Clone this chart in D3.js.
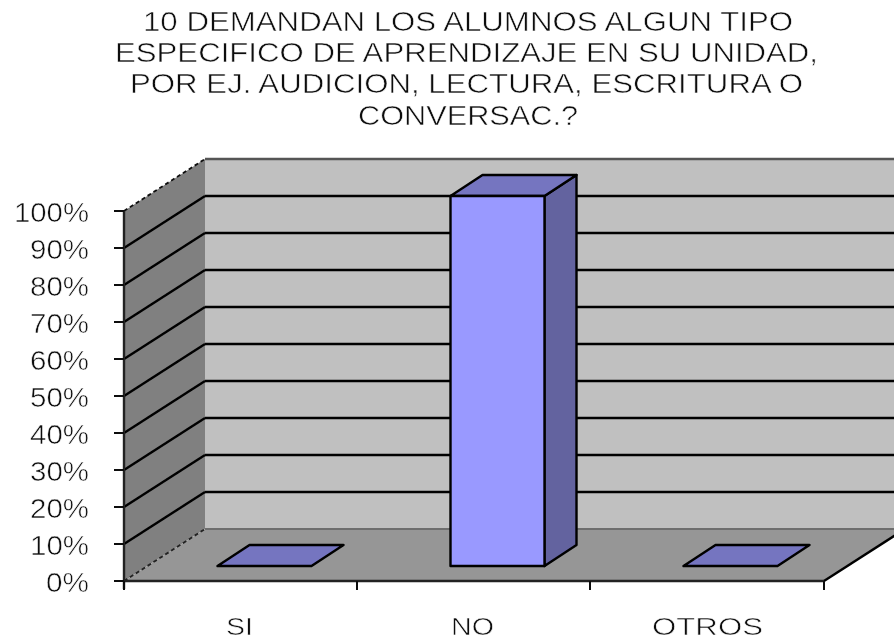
<!DOCTYPE html>
<html>
<head>
<meta charset="utf-8">
<script src="https://cdn.jsdelivr.net/npm/d3@7/dist/d3.min.js"></script>
<style>html,body{margin:0;padding:0;background:#fff}svg{display:block}</style>
</head>
<body>
<svg id="c" width="894" height="641"></svg>
<script>
const titleLines = ["10 DEMANDAN LOS ALUMNOS ALGUN TIPO","ESPECIFICO DE APRENDIZAJE EN SU UNIDAD,","POR EJ. AUDICION, LECTURA, ESCRITURA O","CONVERSAC.?"];
const categories = ["SI","NO","OTROS"];
const values = [0,100,0];
const yTicks = [0,10,20,30,40,50,60,70,80,90,100];

const W=894,H=641, x0=124, x1=824, dx=81, dy=-52, barDx=32, barDy=-21, floorDx=24, floorDy=-15;
const svg=d3.select("#c");
const defs=svg.append("defs");
defs.append("filter").attr("id","soft").append("feGaussianBlur").attr("stdDeviation",0.5);
defs.append("filter").attr("id","softT").append("feGaussianBlur").attr("stdDeviation",0.35);
const y=d3.scaleLinear().domain([0,100]).range([581,211]);
const x=d3.scaleBand().domain(categories).range([x0,x1-1]).paddingInner(0).paddingOuter(0);
const g=svg.append("g").attr("filter","url(#soft)");
const poly=(pts,fill,stroke,sw)=>g.append("polygon").attr("points",pts.map(p=>p.join(",")).join(" "))
  .attr("fill",fill).attr("stroke",stroke||"none").attr("stroke-width",sw||0).attr("stroke-linejoin","round");
const line=(a,b,stroke,sw,dash)=>g.append("line").attr("x1",a[0]).attr("y1",a[1]).attr("x2",b[0]).attr("y2",b[1])
  .attr("stroke",stroke).attr("stroke-width",sw).attr("stroke-dasharray",dash||null);

// walls and floor
poly([[x0+dx,y(100)+dy],[W+2,y(100)+dy],[W+2,y(0)+dy],[x0+dx,y(0)+dy]],"#c0c0c0");
poly([[x0,y(0)],[x0,y(100)],[x0+dx,y(100)+dy],[x0+dx,y(0)+dy]],"#808080");
poly([[x0,y(0)],[x1,y(0)],[x1+dx,y(0)+dy],[x0+dx,y(0)+dy]],"#969696");

// gridlines
yTicks.forEach(t=>{
  if(t===0){
    line([x0,y(0)],[x0+dx,y(0)+dy],"#222",1.8,"4 3");
    line([x0+dx,y(0)+dy],[W,y(0)+dy],"#6e6e6e",2);
  } else if(t===100){
    line([x0,y(t)],[x0+dx,y(t)+dy],"#111",1.8,"4 3");
    line([x0+dx,y(t)+dy],[W,y(t)+dy],"#555",2.4);
  } else {
    line([x0,y(t)],[x0+dx,y(t)+dy],"#000",2.4);
    line([x0+dx,y(t)+dy],[W,y(t)+dy],"#000",2.6);
  }
});
line([x1,y(0)],[x1+dx,y(0)+dy],"#000",2.4);

// axes
line([x0,y(0)+8],[x0,y(100)],"#222",2.4);
line([x0,y(0)],[x1,y(0)],"#222",2.4);
yTicks.forEach(t=>line([x0-10,y(t)],[x0,y(t)],"#111",2));
x.domain().forEach(c=>line([x(c),y(0)],[x(c),y(0)+9],"#111",2));
line([x1,y(0)],[x1,y(0)+9],"#111",2);

// bars
const barW=94, inset=(x.bandwidth()-barW)/2;
categories.forEach((c,i)=>{
  const l=x(c)+inset+floorDx, r=l+barW;
  const base=y(0)+floorDy, top=base-(y(0)-y(values[i]));
  const s="#000";
  if(values[i]>0){
    poly([[r,base],[r,top],[r+barDx,top+barDy],[r+barDx,base+barDy]],"#63639f",s,2.4);
    poly([[l,top],[r,top],[r+barDx,top+barDy],[l+barDx,top+barDy]],"#7474c0",s,2.4);
    poly([[l,base],[r,base],[r,top],[l,top]],"#9999ff",s,2.4);
  } else {
    poly([[l,base],[r,base],[r+barDx,base+barDy],[l+barDx,base+barDy]],"#7474c0",s,2.4);
  }
});

// text
const tg=svg.append("g").attr("filter","url(#softT)")
  .attr("font-family","'Liberation Sans',Arial,sans-serif").attr("fill","#111")
  .attr("stroke","#fff").attr("stroke-width",0.55).attr("paint-order","fill");
const titleSpec=[[143,650,31],[115,703,62],[130,673,93],[358,220,125]];
titleLines.forEach((t,i)=>tg.append("text").text(t)
  .attr("x",titleSpec[i][0]).attr("y",titleSpec[i][2]).attr("font-size",27.5)
  .attr("textLength",titleSpec[i][1]).attr("lengthAdjust","spacingAndGlyphs"));
yTicks.forEach(t=>{
  const s=t+"%", w=s.length===4?75:(s.length===3?59:43);
  tg.append("text").text(s).attr("x",89-w).attr("y",y(t)+11).attr("font-size",27.5)
    .attr("textLength",w).attr("lengthAdjust","spacingAndGlyphs");
});
const catWidths=[27,43,111], catShift=[-1,-1,1];
categories.forEach((c,i)=>tg.append("text").text(c)
  .attr("x",x(c)+x.bandwidth()/2+catShift[i]-catWidths[i]/2).attr("y",635).attr("font-size",24)
  .attr("textLength",catWidths[i]).attr("lengthAdjust","spacingAndGlyphs"));
</script>
</body>
</html>
